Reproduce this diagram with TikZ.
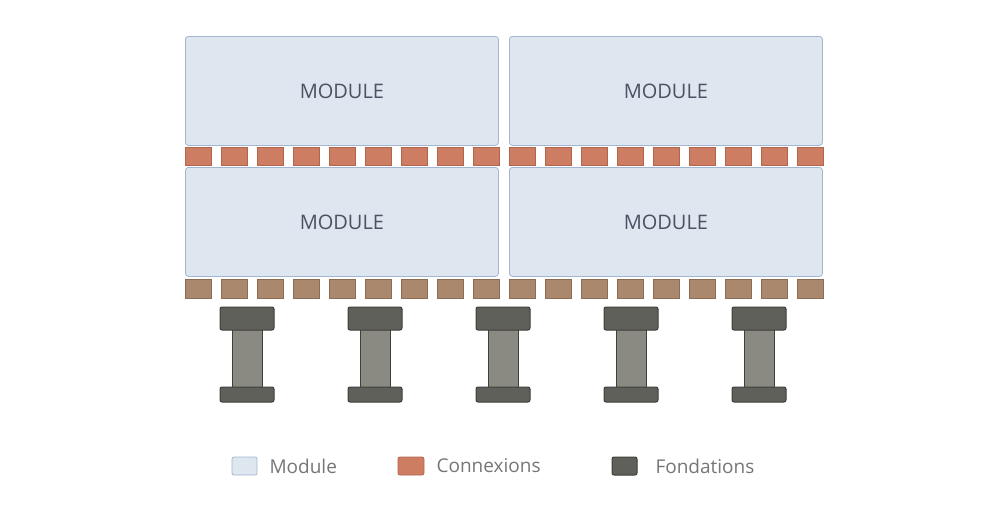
\documentclass[tikz,border=0pt]{standalone}
\usepackage{fontspec}
\setmainfont{Open Sans}
\begin{document}
\begin{tikzpicture}[x=1pt,y=-1pt,
 mod/.style={draw=modb,fill=modf,rounded corners=3pt,line width=0.8pt},
 con/.style={draw=conb,fill=conf,line width=0.8pt},
 bas/.style={draw=basb,fill=basf,line width=0.8pt},
 pcap/.style={draw=capb,fill=capf,rounded corners=2pt,line width=1pt},
 shaft/.style={draw=capb,fill=shf,line width=0.8pt},
 lbl/.style={text=modt,font=\fontsize{20}{24}\selectfont},
 leg/.style={text=legt,font=\fontsize{19}{23}\selectfont,anchor=west}]
\definecolor{modb}{HTML}{A3B5D0}\definecolor{modf}{HTML}{DEE6EF}
\definecolor{conb}{HTML}{B2654C}\definecolor{conf}{HTML}{CD7D62}
\definecolor{basb}{HTML}{8C6C52}\definecolor{basf}{HTML}{A9886D}
\definecolor{capb}{HTML}{3F403A}\definecolor{capf}{HTML}{5F605A}
\definecolor{shf}{HTML}{8A8A82}\definecolor{modt}{HTML}{4A5263}\definecolor{legt}{HTML}{767676}
\useasboundingbox (0,0) rectangle (1007,512);
\foreach \x/\n in {185/L,509/R}{
 \node[mod,minimum width=313pt,minimum height=109pt,anchor=north west,lbl] (t\n) at (\x,36) {MODULE};
 \node[mod,minimum width=313pt,minimum height=109pt,anchor=north west,lbl] (b\n) at (\x,167) {MODULE};
 \foreach \i in {0,...,8}{
  \draw[con] (\x+\i*36,147) rectangle ++(26,18);
  \draw[bas] (\x+\i*36,279) rectangle ++(26,19);
 }}
\foreach \c in {247,375,503,631,759}{
 \draw[shaft] (\c-15,328) rectangle (\c+15,389);
 \draw[pcap] (\c-27,307) rectangle (\c+27,330);
 \draw[pcap] (\c-27,387) rectangle (\c+27,402);
}
\draw[mod,rounded corners=2pt] (232,457) rectangle (257,475);
\node[leg] (l1) at (266,466) {Module};
\draw[con,rounded corners=2pt] (398,457) rectangle (424,475);
\node[leg] (l2) at (433,466) {Connexions};
\draw[pcap] (612,457) rectangle (637,475);
\node[leg] (l3) at (652,466) {Fondations};
\end{tikzpicture}
\end{document}
